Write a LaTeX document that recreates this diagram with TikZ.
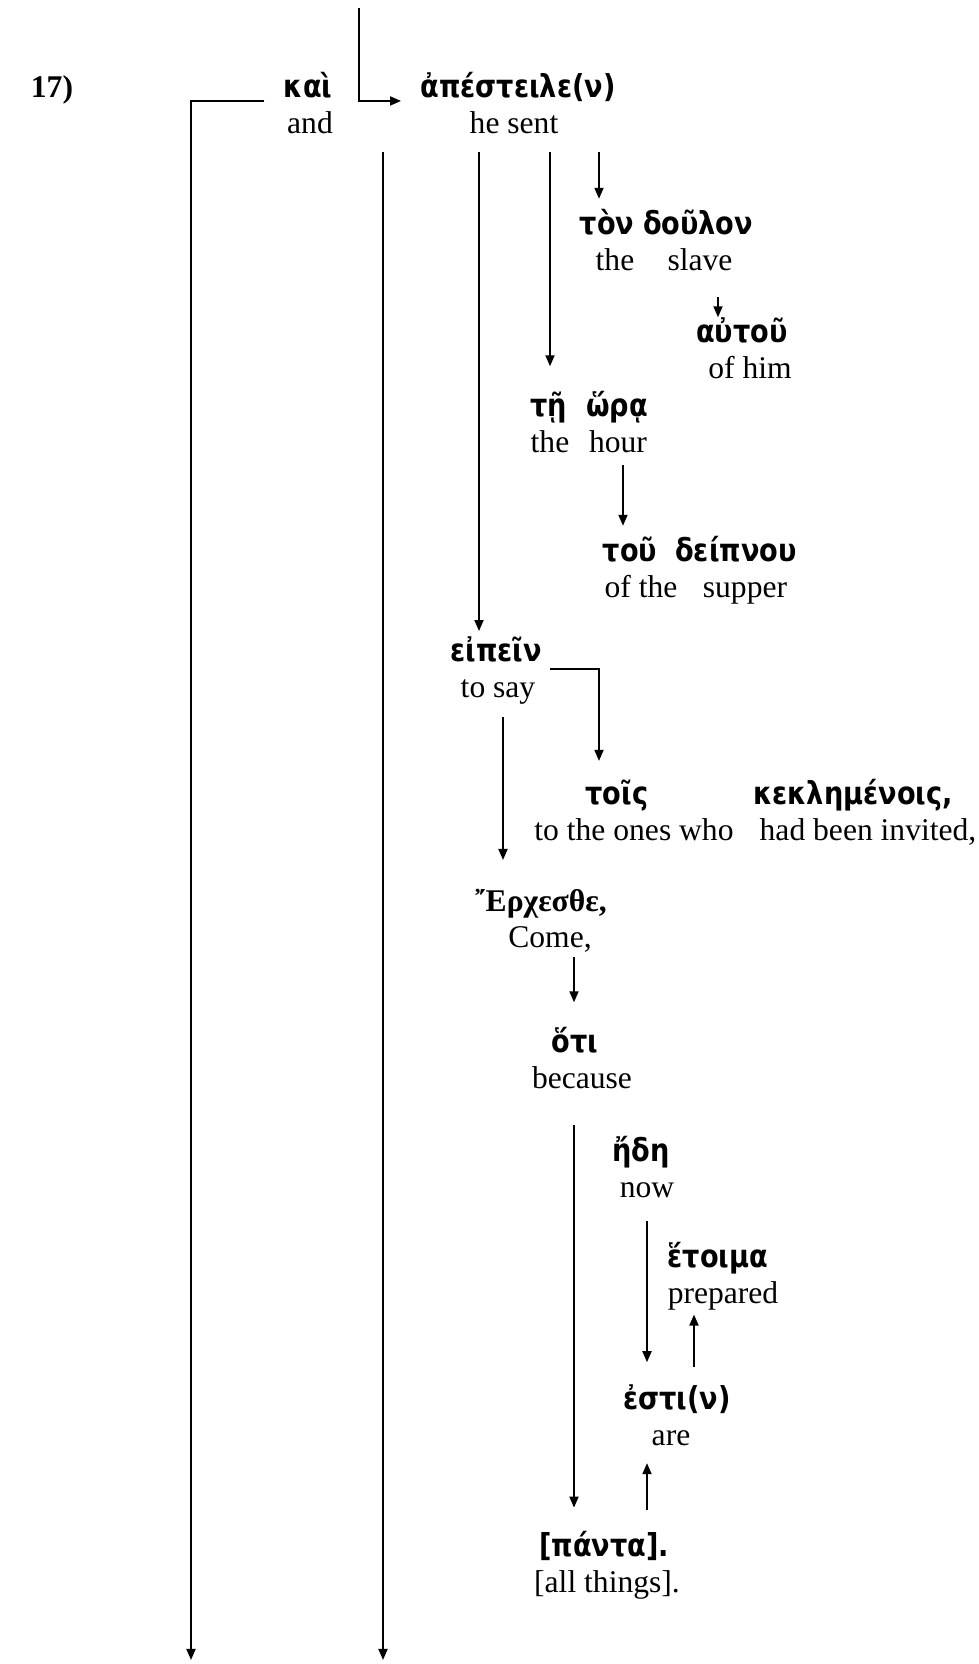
\documentclass[tikz,border=0pt]{standalone}
\usepackage{fontspec}
\setmainfont{Liberation Serif}
\newfontfamily\grkfont{DejaVu Sans}[FakeStretch=0.86]
\usetikzlibrary{arrows.meta}

\begin{document}
\begin{tikzpicture}[x=0.38pt, y=-0.38pt, line width=0.75pt,
    gr/.style={anchor=base, inner sep=1pt, text height=8pt, text depth=2pt,
        font=\fontsize{12}{14}\selectfont\grkfont\bfseries},
    en/.style={anchor=base, inner sep=1pt, text height=8pt, text depth=3pt,
        font=\fontsize{12}{14}\selectfont},
    arr/.style={-{Triangle[length=4.2pt, width=3.4pt]}}]
    \useasboundingbox (0,0) rectangle (979,1664);
    % Greek words and glosses
    \node[en, font=\fontsize{12}{14}\selectfont\bfseries] (num) at (52,97) {17)};
    \node[gr] (kai)     at (308,97)   {καὶ};
    \node[en] (kaie)    at (310,133)  {and};
    \node[gr] (apest)   at (518,97)   {ἀπέστειλε(ν)};
    \node[en] (apeste)  at (514,133)  {he sent};
    \node[gr] (ton)     at (607,234)  {τὸν};
    \node[en] (tone)    at (615,270)  {the};
    \node[gr] (doulon)  at (698,234)  {δοῦλον};
    \node[en] (doulone) at (700,270)  {slave};
    \node[gr] (autou)   at (742,342)  {αὐτοῦ};
    \node[en] (autoue)  at (750,378)  {of him};
    \node[gr] (te)      at (549,416)  {τῇ};
    \node[en] (tee)     at (550,452)  {the};
    \node[gr] (hora)    at (617,416)  {ὥρᾳ};
    \node[en] (horae)   at (618,452)  {hour};
    \node[gr] (tou)     at (630,561)  {τοῦ};
    \node[en] (toue)    at (641,597)  {of the};
    \node[gr] (deipnou) at (736,561)  {δείπνου};
    \node[en] (deipnoue) at (745,597) {supper};
    \node[gr] (eipein)  at (496,661)  {εἰπεῖν};
    \node[en] (eipeine) at (498,697)  {to say};
    \node[gr] (tois)    at (617,804)  {τοῖς};
    \node[en] (toise)   at (634,840)  {to the ones who};
    \node[gr] (kekl)    at (853,804)  {κεκλημένοις,};
    \node[en] (kekle)   at (868,840)  {had been invited,};
    \node[gr, font=\fontsize{12}{14}\selectfont\bfseries] (erch) at (541,911) {῎Ερχεσθε,};
    \node[en] (erche)   at (550,947)  {Come,};
    \node[gr] (hoti)    at (575,1052) {ὅτι};
    \node[en] (hotie)   at (582,1088) {because};
    \node[gr] (ede)     at (641,1161) {ἤδη};
    \node[en] (edee)    at (647,1197) {now};
    \node[gr] (hetoima) at (718,1267) {ἕτοιμα};
    \node[en] (hetoimae) at (723,1303) {prepared};
    \node[gr] (esti)    at (677,1409) {ἐστι(ν)};
    \node[en] (estie)   at (671,1445) {are};
    \node[gr] (panta)   at (604,1556) {[πάντα].};
    \node[en] (pantae)  at (607,1592) {[all things].};
    % free ends of the lines
    \coordinate (topin)   at (359,8);
    \coordinate (leftend) at (191,1660);
    \coordinate (midtop)  at (383,152);
    \coordinate (midend)  at (383,1660);
    \coordinate (c1)  at (479,152);
    \coordinate (c2)  at (550,152);
    \coordinate (c3)  at (599,152);
    \coordinate (c4)  at (718,297);
    \coordinate (c5)  at (623,465);
    \coordinate (hk0) at (550,669);
    \coordinate (hk1) at (599,669);
    \coordinate (c8)  at (503,717);
    \coordinate (c9)  at (574,957);
    \coordinate (c10) at (574,1125);
    \coordinate (c11) at (647,1221);
    \coordinate (c12) at (694,1367);
    \coordinate (c13) at (647,1510);
    % lines
    \draw[arr] (topin) |- ([xshift=-6pt, yshift=-1.5pt]apest.base west);
    \draw[arr] ([xshift=-6pt, yshift=-1.5pt]kai.base west) -| (leftend);
    \draw[arr] (midtop) -- (midend);
    \draw[arr, shorten >=2pt]   (c1) -- (c1 |- eipein.north);
    \draw[arr, shorten >=9.5pt] (c2) -- (c2 |- te.north);
    \draw[arr, shorten >=4pt]   (c3) -- (c3 |- ton.north);
    \draw[arr] (c4) -- (c4 |- autou.north);
    \draw[arr, shorten >=4pt]   (c5) -- (c5 |- tou.north);
    \draw[arr, shorten >=7pt]   (hk0) -- (hk1) -- (hk1 |- tois.north);
    \draw[arr, shorten >=10pt]  (c8) -- (c8 |- erch.north);
    \draw[arr, shorten >=9.5pt] (c9) -- (c9 |- hoti.north);
    \draw[arr, shorten >=9pt]   (c10) -- (c10 |- panta.north);
    \draw[arr, shorten >=8.4pt] (c11) -- (c11 |- esti.north);
    \draw[arr] (c12) -- (c12 |- hetoimae.south);
    \draw[arr, shorten >=2.5pt] (c13) -- (c13 |- estie.south);
\end{tikzpicture}
\end{document}
